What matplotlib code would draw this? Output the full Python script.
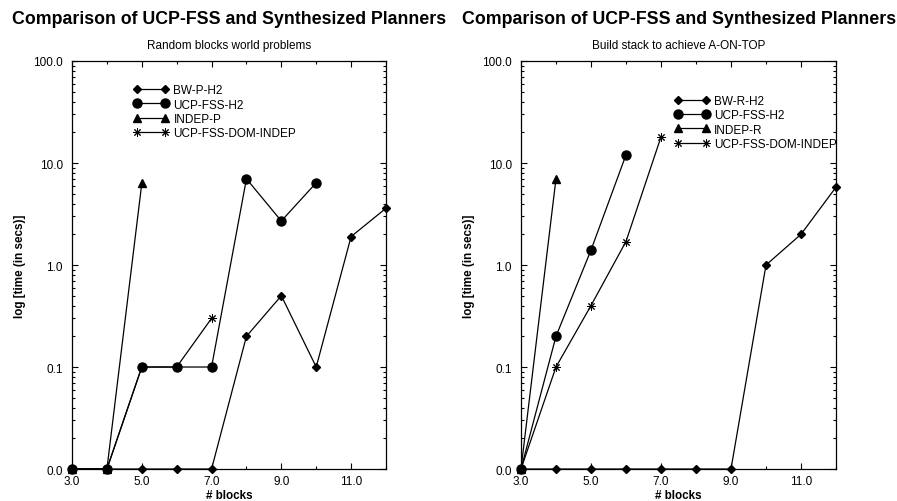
import matplotlib
matplotlib.use("Agg")
import matplotlib.pyplot as plt
from matplotlib.ticker import FixedLocator, FixedFormatter, LogLocator, NullFormatter

plt.rcParams['font.family'] = ['Liberation Sans', 'DejaVu Sans']

# ---- Data: left panel (Random blocks world problems) ----
left_bw_x = [3, 4, 5, 6, 7, 8, 9, 10, 11, 12]
left_bw_y = [0.01, 0.01, 0.01, 0.01, 0.01, 0.2, 0.5, 0.1, 1.9, 3.6]
left_ucp_x = [3, 4, 5, 6, 7, 8, 9, 10]
left_ucp_y = [0.01, 0.01, 0.1, 0.1, 0.1, 7.0, 2.7, 6.4]
left_indep_x = [3, 4, 5]
left_indep_y = [0.01, 0.01, 6.3]
left_dom_x = [3, 4, 5, 6, 7]
left_dom_y = [0.01, 0.01, 0.1, 0.1, 0.3]

# ---- Data: right panel (Build stack to achieve A-ON-TOP) ----
right_bw_x = [3, 4, 5, 6, 7, 8, 9, 10, 11, 12]
right_bw_y = [0.01, 0.01, 0.01, 0.01, 0.01, 0.01, 0.01, 1.0, 2.0, 5.8]
right_ucp_x = [3, 4, 5, 6]
right_ucp_y = [0.01, 0.2, 1.4, 12.0]
right_indep_x = [3, 4]
right_indep_y = [0.01, 7.0]
right_dom_x = [3, 4, 5, 6, 7]
right_dom_y = [0.01, 0.1, 0.4, 1.7, 18.0]

left_labels = ["BW-P-H2", "UCP-FSS-H2", "INDEP-P", "UCP-FSS-DOM-INDEP"]
right_labels = ["BW-R-H2", "UCP-FSS-H2", "INDEP-R", "UCP-FSS-DOM-INDEP"]

main_title = "Comparison of UCP-FSS and Synthesized Planners"
left_subtitle = "Random blocks world problems"
right_subtitle = "Build stack to achieve A-ON-TOP"

y_ticks = [0.01, 0.1, 1.0, 10.0, 100.0]
y_ticklabels = ["0.0", "0.1", "1.0", "10.0", "100.0"]
x_major = [3, 5, 7, 9, 11]
x_major_labels = ["3.0", "5.0", "7.0", "9.0", "11.0"]
x_minor = [4, 6, 8, 10, 12]

fig = plt.figure(figsize=(8.97, 5.02), dpi=100)
ax1 = fig.add_axes([0.0803, 0.0637, 0.350, 0.8128])
ax2 = fig.add_axes([0.5808, 0.0637, 0.3512, 0.8128])

star = (8, 2, 0)

def draw(ax, series, labels, subtitle, legend_anchor):
    styles = [dict(marker='D', ms=4.5), dict(marker='o', ms=6.5),
              dict(marker='^', ms=6), dict(marker=star, ms=6, mew=0.7)]
    for (x, y), lab, st in zip(series, labels, styles):
        ax.plot(x, y, color='black', lw=0.9, label=lab, clip_on=False, zorder=3, **st)
    ax.set_yscale('log')
    ax.set_ylim(0.01, 100)
    ax.set_xlim(3, 12)
    ax.yaxis.set_major_locator(FixedLocator(y_ticks))
    ax.yaxis.set_major_formatter(FixedFormatter(y_ticklabels))
    ax.yaxis.set_minor_locator(LogLocator(base=10, subs=range(2, 10)))
    ax.yaxis.set_minor_formatter(NullFormatter())
    ax.xaxis.set_major_locator(FixedLocator(x_major))
    ax.xaxis.set_major_formatter(FixedFormatter(x_major_labels))
    ax.xaxis.set_minor_locator(FixedLocator(x_minor))
    ax.tick_params(which='both', direction='in', top=True, right=True, width=0.8,
                   labelsize=8.5)
    ax.tick_params(axis='x', which='both', pad=4.5)
    ax.tick_params(axis='y', which='both', pad=6.5)
    ax.tick_params(which='major', length=4.5)
    ax.tick_params(which='minor', length=2.3)
    for sp in ax.spines.values():
        sp.set_linewidth(0.9)
    ax.set_title(subtitle, fontsize=8.5, pad=9.5)
    ax.set_xlabel("# blocks", fontsize=8.4, fontweight='bold', labelpad=1.2)
    ax.set_ylabel("log [time (in secs)]", fontsize=8.4, fontweight='bold', labelpad=5.5)
    ax.legend(loc='upper left', bbox_to_anchor=legend_anchor, frameon=False,
              fontsize=8.5, numpoints=2, handlelength=3.0, handletextpad=0.38,
              labelspacing=0.2, borderaxespad=0, borderpad=0)

draw(ax1, [(left_bw_x, left_bw_y), (left_ucp_x, left_ucp_y),
           (left_indep_x, left_indep_y), (left_dom_x, left_dom_y)],
     left_labels, left_subtitle, (0.196, 0.943))
draw(ax2, [(right_bw_x, right_bw_y), (right_ucp_x, right_ucp_y),
           (right_indep_x, right_indep_y), (right_dom_x, right_dom_y)],
     right_labels, right_subtitle, (0.487, 0.917))

fig.text(0.2553, 0.962, main_title, ha='center', va='center', fontsize=12.8, fontweight='bold')
fig.text(0.757, 0.962, main_title, ha='center', va='center', fontsize=12.8, fontweight='bold')

fig.savefig("out.png", dpi=100)
